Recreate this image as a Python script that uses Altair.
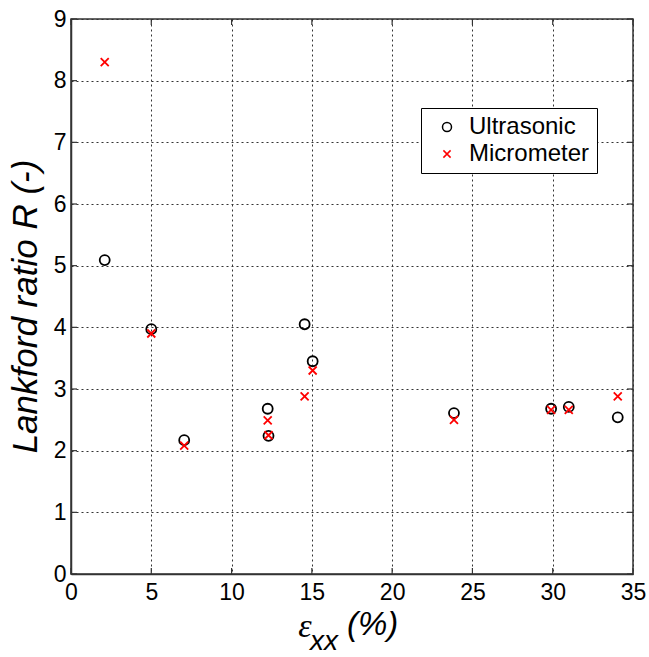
import altair as alt
import pandas as pd

# strain (%) for each specimen
strain = [2.1, 5.0, 7.05, 12.25, 12.3, 14.55, 15.05, 23.85, 29.9, 31.0, 34.05]
ultrasonic = [5.09, 3.97, 2.17, 2.68, 2.24, 4.05, 3.45, 2.61, 2.68, 2.71, 2.54]
micrometer = [8.30, 3.90, 2.08, 2.49, 2.25, 2.88, 3.30, 2.50, 2.66, 2.66, 2.88]
series_names = ["Ultrasonic", "Micrometer"]
x_ticks = [0, 5, 10, 15, 20, 25, 30, 35]
y_ticks = [0, 1, 2, 3, 4, 5, 6, 7, 8, 9]

rows = []
for s, u, m in zip(strain, ultrasonic, micrometer):
    rows.append({"x": s, "y": u, "method": series_names[0]})
    rows.append({"x": s, "y": m, "method": series_names[1]})
df = pd.DataFrame(rows)

W, H = 562, 555
FONT = "Liberation Sans"

xscale = alt.Scale(domain=[0, 35], nice=False, zero=False)
yscale = alt.Scale(domain=[0, 9], nice=False, zero=False)
xaxis = alt.Axis(values=x_ticks, title=None, labelFlush=False, labelOverlap=False,
                 labelPadding=7, grid=True)
yaxis = alt.Axis(values=y_ticks, title="Lankford ratio R (-)", labelOverlap=False,
                 labelFlush=False, labelPadding=5, grid=True,
                 titleAngle=270, titleAlign="center", titleBaseline="alphabetic",
                 titleX=-35, titleY=287)

xpath = "M-0.8,-0.8L0.8,0.8M-0.8,0.8L0.8,-0.8"

leg = alt.Legend(orient="none", legendX=350, legendY=89, title=None,
                 strokeColor="black", fillColor="white", padding=7,
                 symbolOffset=7, labelOffset=10, labelFontSize=24,
                 labelFont=FONT, labelColor="black", rowPadding=3,
                 symbolStrokeWidth=1.5, symbolSize=81, cornerRadius=0)

points = alt.Chart(df).mark_point(filled=False, strokeWidth=1.8, size=100, opacity=1).encode(
    x=alt.X("x:Q", scale=xscale, axis=xaxis),
    y=alt.Y("y:Q", scale=yscale, axis=yaxis),
    color=alt.Color("method:N", scale=alt.Scale(domain=series_names, range=["black", "red"]),
                    legend=leg),
    shape=alt.Shape("method:N", scale=alt.Scale(domain=series_names, range=["circle", xpath]),
                    legend=leg),
)

xt = pd.DataFrame({"x": x_ticks})
yt = pd.DataFrame({"y": y_ticks})
tick_col = "#333333"
left_ticks = alt.Chart(yt).mark_rule(color=tick_col, strokeWidth=1.2).encode(
    y=alt.Y("y:Q", scale=yscale, axis=yaxis), x=alt.value(0), x2=alt.value(6))
right_ticks = alt.Chart(yt).mark_rule(color=tick_col, strokeWidth=1.2).encode(
    y=alt.Y("y:Q", scale=yscale, axis=yaxis), x=alt.value(W - 6), x2=alt.value(W))
bottom_ticks = alt.Chart(xt).mark_rule(color=tick_col, strokeWidth=1.2).encode(
    x=alt.X("x:Q", scale=xscale, axis=xaxis), y=alt.value(H - 6), y2=alt.value(H))
top_ticks = alt.Chart(xt).mark_rule(color=tick_col, strokeWidth=1.2).encode(
    x=alt.X("x:Q", scale=xscale, axis=xaxis), y=alt.value(0), y2=alt.value(6))

eps = alt.Chart(pd.DataFrame({"t": ["ε"]})).mark_text(
    font="Liberation Serif", fontStyle="italic", fontSize=34, align="center",
    baseline="alphabetic", color="black").encode(text="t:N", x=alt.value(234), y=alt.value(618))
sub = alt.Chart(pd.DataFrame({"t": ["xx"]})).mark_text(
    font=FONT, fontStyle="italic", fontSize=28, align="left",
    baseline="alphabetic", color="black").encode(text="t:N", x=alt.value(239), y=alt.value(631))
pct = alt.Chart(pd.DataFrame({"t": ["(%)"]})).mark_text(
    font=FONT, fontStyle="italic", fontSize=33, align="left",
    baseline="alphabetic", color="black").encode(text="t:N", x=alt.value(276), y=alt.value(616))

chart = alt.layer(points, left_ticks, right_ticks, bottom_ticks, top_ticks, eps, sub, pct).properties(
    width=W, height=H, autosize="none",
    padding={"left": 71, "top": 19, "right": 16, "bottom": 83},
    background="white",
).configure_view(stroke="#333333", strokeWidth=1.5).configure_axis(
    domainColor="#333333", domainWidth=1.5, gridColor="#333333", gridDash=[2, 3],
    gridWidth=1, gridOpacity=1, ticks=False,
    labelFont=FONT, labelFontSize=23, labelColor="black",
    titleFont=FONT, titleFontSize=35, titleFontStyle="italic", titleFontWeight="normal",
    titleColor="black",
)

chart.save("out.html", embed_options={"renderer": "svg", "actions": False})
